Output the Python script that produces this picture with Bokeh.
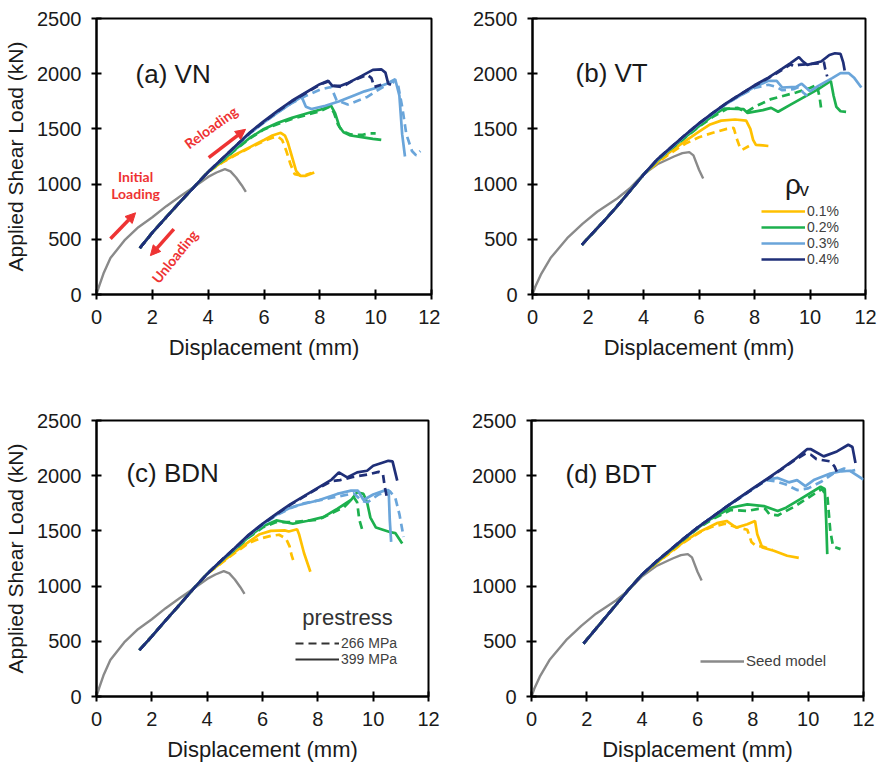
from bokeh.plotting import figure
from bokeh.layouts import column, row
from bokeh.models import Range1d, FixedTicker, Label, Arrow, NormalHead, Legend, LegendItem
from bokeh.embed import file_html
from bokeh.resources import INLINE

FONT = "Liberation Sans"
C_YEL = "#FFC000"
C_GRN = "#1DB04E"
C_LBL = "#6AA5DA"
C_NAV = "#1F2F78"
C_SEED = "#8A8A8A"
C_RED = "#EE3333"
TXT = "#1a1a1a"
DASH = "8 5"

x_ticks = [0, 2, 4, 6, 8, 10, 12]
y_ticks = [0, 500, 1000, 1500, 2000, 2500]
legend_rho = ["0.1%", "0.2%", "0.3%", "0.4%"]
legend_prestress = ["266 MPa", "399 MPa"]

# Seed model curves
seed_n_x = [0, 0.1, 0.25, 0.5, 1.0, 1.5, 2.0, 2.5, 3.0, 3.5, 4.0, 4.3, 4.6, 4.8, 5.0, 5.2, 5.35]
seed_n_y = [0, 80, 190, 330, 490, 610, 700, 800, 890, 975, 1065, 1105, 1135, 1115, 1060, 990, 930]
seed_t_x = [0, 0.1, 0.3, 0.65, 1.25, 1.8, 2.33, 3.05, 3.5, 4.0, 4.5, 5.1, 5.4, 5.65, 5.8, 6.0, 6.15]
seed_t_y = [0, 70, 180, 330, 510, 640, 750, 870, 960, 1090, 1180, 1250, 1280, 1290, 1260, 1130, 1050]

# ---- (a) VN ----
a_rise_x = [1.55, 2.0, 2.5, 3.0, 3.5, 4.0]
a_rise_y = [420, 560, 700, 840, 975, 1110]
a_yel_399_x = [4.5, 5, 5.5, 6, 6.3, 6.6, 6.75, 6.85, 7.0, 7.15, 7.3, 7.5, 7.8]
a_yel_399_y = [1200, 1270, 1335, 1400, 1440, 1465, 1440, 1380, 1250, 1120, 1075, 1075, 1105]
a_yel_266_x = [4.5, 5, 5.5, 6, 6.3, 6.5, 6.65, 6.8, 6.95, 7.1, 7.4, 7.7]
a_yel_266_y = [1195, 1265, 1330, 1390, 1420, 1430, 1400, 1300, 1180, 1090, 1075, 1100]
a_grn_399_x = [4.5, 5, 5.5, 6, 6.5, 7, 7.4, 7.8, 8.1, 8.4, 8.55, 8.7, 8.85, 9.1, 9.5, 9.9, 10.2]
a_grn_399_y = [1215, 1320, 1420, 1500, 1555, 1600, 1630, 1660, 1680, 1710, 1640, 1520, 1470, 1440, 1425, 1410, 1400]
a_grn_266_x = [4.5, 5, 5.5, 6, 6.5, 7, 7.5, 8, 8.35, 8.5, 8.65, 8.8, 9.1, 9.5, 9.8, 10.0]
a_grn_266_y = [1210, 1315, 1415, 1495, 1545, 1590, 1625, 1660, 1700, 1650, 1540, 1480, 1450, 1445, 1460, 1460]
a_lbl_399_x = [4.5, 5, 5.5, 6, 6.5, 7, 7.35, 7.5, 7.7, 8.2, 8.7, 9.2, 9.6, 10.0, 10.4, 10.7, 10.85, 10.95, 11.05]
a_lbl_399_y = [1225, 1345, 1460, 1560, 1650, 1735, 1790, 1700, 1680, 1710, 1750, 1800, 1840, 1870, 1910, 1950, 1800, 1450, 1250]
a_lbl_266_x = [4.5, 5, 5.5, 6, 6.5, 7, 7.5, 8, 8.4, 8.6, 9.0, 9.4, 9.7, 10.2, 10.6, 10.8, 10.95, 11.1, 11.3, 11.45, 11.6]
a_lbl_266_y = [1225, 1345, 1460, 1560, 1650, 1735, 1800, 1855, 1880, 1760, 1720, 1760, 1790, 1870, 1930, 1900, 1700, 1450, 1300, 1260, 1300]
a_nav_399_x = [4.5, 5, 5.5, 6, 6.5, 7, 7.5, 8, 8.3, 8.45, 8.75, 9.0, 9.5, 9.9, 10.2, 10.35, 10.45, 10.55]
a_nav_399_y = [1230, 1350, 1470, 1570, 1665, 1755, 1830, 1905, 1935, 1890, 1890, 1915, 1980, 2035, 2040, 2010, 1910, 1900]
a_nav_266_x = [4.5, 5, 5.5, 6, 6.5, 7, 7.5, 8, 8.3, 8.5, 8.8, 9.2, 9.7, 9.85, 9.95, 10.2]
a_nav_266_y = [1230, 1350, 1465, 1565, 1660, 1750, 1825, 1900, 1930, 1890, 1880, 1940, 1990, 1960, 1880, 1900]

# ---- (b) VT ----
b_rise_x = [1.78, 2.0, 2.5, 3.0, 3.5, 4.0]
b_rise_y = [450, 510, 645, 785, 935, 1085]
b_yel_399_x = [4.5, 5, 5.5, 6, 6.4, 6.8, 7.3, 7.7, 7.85, 7.95, 8.05, 8.3, 8.5]
b_yel_399_y = [1200, 1300, 1390, 1475, 1540, 1575, 1585, 1575, 1500, 1400, 1355, 1350, 1345]
b_yel_266_x = [4.5, 5, 5.5, 6, 6.5, 7, 7.25, 7.35, 7.45, 7.55, 7.8]
b_yel_266_y = [1195, 1285, 1365, 1425, 1465, 1500, 1510, 1420, 1350, 1310, 1345]
b_grn_399_x = [4.5, 5, 5.5, 6, 6.5, 6.9, 7.6, 7.75, 8.3, 8.6, 8.85, 9.3, 9.8, 10.3, 10.75, 10.85, 10.95, 11.1, 11.3]
b_grn_399_y = [1215, 1325, 1425, 1525, 1620, 1685, 1680, 1645, 1670, 1690, 1655, 1720, 1790, 1860, 1935, 1800, 1700, 1660, 1655]
b_grn_266_x = [4.5, 5, 5.5, 6, 6.5, 7, 7.4, 7.7, 8.0, 8.6, 9.5, 10.0, 10.25, 10.35, 10.42]
b_grn_266_y = [1215, 1320, 1420, 1520, 1610, 1680, 1690, 1650, 1700, 1770, 1830, 1870, 1900, 1780, 1650]
b_lbl_399_x = [4.5, 5, 5.5, 6, 6.5, 7, 7.5, 8, 8.5, 8.8, 9.0, 9.5, 9.7, 10.0, 10.3, 10.8, 11.1, 11.4, 11.6, 11.85]
b_lbl_399_y = [1220, 1330, 1440, 1545, 1640, 1730, 1805, 1880, 1935, 1935, 1875, 1880, 1910, 1840, 1890, 1960, 2005, 2005, 1960, 1875]
b_lbl_266_x = [4.5, 5, 5.5, 6, 6.5, 7, 7.5, 8, 8.5, 8.8, 9.0, 9.4, 9.6, 9.75, 9.9]
b_lbl_266_y = [1220, 1330, 1440, 1545, 1640, 1730, 1805, 1870, 1900, 1880, 1850, 1860, 1880, 1830, 1800]
b_nav_399_x = [4.5, 5, 5.5, 6, 6.5, 7, 7.5, 8, 8.5, 9, 9.3, 9.6, 9.75, 9.9, 10.4, 10.7, 10.9, 11.1, 11.2, 11.25]
b_nav_399_y = [1225, 1335, 1445, 1550, 1645, 1735, 1815, 1895, 1965, 2045, 2095, 2150, 2110, 2080, 2110, 2170, 2185, 2180, 2100, 2030]
b_nav_266_x = [4.5, 5, 5.5, 6, 6.5, 7, 7.5, 8, 8.5, 9, 9.3, 9.4, 9.6, 10.4, 10.5, 10.55, 10.62]
b_nav_266_y = [1225, 1335, 1445, 1550, 1645, 1735, 1815, 1890, 1960, 2035, 2085, 2070, 2080, 2095, 2105, 2040, 1975]

# ---- (c) BDN ----
c_rise_x = [1.55, 2.0, 2.5, 3.0, 3.5, 4.0]
c_rise_y = [420, 545, 690, 830, 975, 1110]
c_yel_399_x = [4.5, 5, 5.5, 5.9, 6.3, 6.8, 6.95, 7.25, 7.32, 7.5, 7.73]
c_yel_399_y = [1210, 1310, 1400, 1470, 1500, 1505, 1495, 1515, 1470, 1300, 1130]
c_yel_266_x = [4.5, 5, 5.5, 5.9, 6.3, 6.6, 6.85, 6.98, 7.05, 7.13, 7.2]
c_yel_266_y = [1205, 1300, 1390, 1430, 1455, 1465, 1430, 1360, 1280, 1220, 1200]
c_grn_399_x = [4.5, 5, 5.5, 6, 6.5, 7.1, 7.6, 8.2, 8.7, 9.2, 9.42, 9.65, 9.78, 9.9, 10.1, 10.6, 10.8, 11.05]
c_grn_399_y = [1225, 1335, 1445, 1540, 1595, 1565, 1590, 1625, 1700, 1780, 1850, 1835, 1760, 1620, 1530, 1490, 1480, 1385]
c_grn_266_x = [4.5, 5, 5.5, 6, 6.5, 7.1, 7.5, 8.0, 8.5, 8.95, 9.3, 9.42, 9.5, 9.6]
c_grn_266_y = [1225, 1330, 1440, 1530, 1580, 1580, 1590, 1600, 1660, 1715, 1805, 1760, 1600, 1515]
c_lbl_399_x = [4.5, 5, 5.5, 6, 6.5, 7, 7.25, 8, 8.7, 9.2, 9.45, 9.65, 10.0, 10.4, 10.56, 10.6, 10.65]
c_lbl_399_y = [1230, 1340, 1460, 1560, 1645, 1710, 1730, 1775, 1835, 1865, 1865, 1780, 1830, 1865, 1870, 1600, 1400]
c_lbl_266_x = [4.5, 5, 5.5, 6, 6.5, 7, 7.5, 8.5, 9.3, 9.6, 9.8, 10.2, 10.6, 10.8, 10.95, 11.1]
c_lbl_266_y = [1230, 1340, 1455, 1555, 1640, 1705, 1750, 1800, 1840, 1770, 1760, 1830, 1860, 1800, 1650, 1445]
c_nav_399_x = [4.5, 5, 5.5, 6, 6.5, 7, 7.5, 8, 8.5, 8.76, 9.06, 9.42, 9.78, 10.0, 10.55, 10.7, 10.87]
c_nav_399_y = [1230, 1345, 1465, 1565, 1655, 1740, 1815, 1890, 1965, 2030, 1985, 2030, 2045, 2090, 2135, 2130, 1955]
c_nav_266_x = [4.5, 5, 5.5, 6, 6.5, 7, 7.5, 8, 8.5, 8.8, 9.3, 9.8, 10.2, 10.35, 10.42, 10.5]
c_nav_266_y = [1230, 1345, 1460, 1560, 1650, 1735, 1810, 1885, 1950, 1960, 1990, 2010, 2035, 2020, 1900, 1800]

# ---- (d) BDT ----
d_rise_x = [1.88, 2.5, 3.0, 3.5, 4.0]
d_rise_y = [480, 665, 815, 965, 1105]
d_yel_399_x = [4.5, 5, 5.5, 6.1, 6.7, 7.05, 7.4, 7.8, 8.08, 8.16, 8.34, 8.76, 9.24, 9.66]
d_yel_399_y = [1205, 1305, 1400, 1495, 1570, 1590, 1530, 1560, 1590, 1470, 1350, 1320, 1275, 1255]
d_yel_266_x = [4.5, 5, 5.5, 6.1, 6.5, 7.0, 7.4, 7.8, 7.95, 8.1, 8.4, 8.7]
d_yel_266_y = [1205, 1300, 1395, 1490, 1535, 1565, 1535, 1510, 1400, 1365, 1355, 1330]
d_grn_399_x = [4.5, 5, 5.5, 6, 6.5, 7.2, 7.8, 8.4, 8.9, 9.2, 9.7, 10.45, 10.6, 10.65, 10.69]
d_grn_399_y = [1215, 1320, 1425, 1525, 1610, 1710, 1740, 1725, 1680, 1710, 1785, 1900, 1880, 1600, 1290]
d_grn_266_x = [4.5, 5, 5.5, 6, 6.5, 7.2, 7.8, 8.2, 8.45, 8.6, 8.9, 9.5, 10.0, 10.5, 10.7, 10.8, 10.9, 11.17]
d_grn_266_y = [1215, 1320, 1420, 1520, 1600, 1690, 1680, 1700, 1700, 1650, 1640, 1720, 1800, 1880, 1800, 1500, 1360, 1335]
d_lbl_399_x = [4.5, 5, 5.5, 6, 6.5, 7, 7.5, 8, 8.5, 8.9, 9.3, 9.6, 9.9, 10.2, 10.5, 10.8, 11.2, 11.5, 12.0]
d_lbl_399_y = [1220, 1325, 1430, 1530, 1620, 1710, 1795, 1880, 1965, 1980, 1940, 1960, 1905, 1960, 1990, 2020, 2040, 2045, 1965]
d_lbl_266_x = [4.5, 5, 5.5, 6, 6.5, 7, 7.5, 8, 8.5, 8.8, 9.2, 9.6, 10.0, 10.5, 11.0, 11.3, 11.5, 11.7]
d_lbl_266_y = [1220, 1325, 1430, 1530, 1620, 1710, 1795, 1880, 1960, 1950, 1920, 1870, 1885, 1950, 2035, 2065, 2040, 2050]
d_nav_399_x = [4.5, 5, 5.5, 6, 6.5, 7, 7.5, 8, 8.5, 9, 9.5, 9.96, 10.1, 10.56, 11.04, 11.45, 11.6, 11.71]
d_nav_399_y = [1220, 1325, 1430, 1530, 1620, 1710, 1800, 1885, 1970, 2055, 2145, 2240, 2240, 2175, 2220, 2280, 2260, 2115]
d_nav_266_x = [4.5, 5, 5.5, 6, 6.5, 7, 7.5, 8, 8.5, 9, 9.5, 9.9, 10.1, 10.3, 10.8, 10.95, 11.1]
d_nav_266_y = [1220, 1325, 1430, 1530, 1620, 1710, 1795, 1880, 1965, 2050, 2140, 2200, 2190, 2150, 2130, 2085, 2000]


def make_fig(w, h, left, right, top, bottom, ylabel):
    p = figure(width=w, height=h, output_backend="svg", toolbar_location=None,
               x_range=Range1d(0, 12), y_range=Range1d(0, 2500),
               min_border_left=left, min_border_right=right,
               min_border_top=top, min_border_bottom=bottom)
    p.background_fill_color = "white"
    p.border_fill_color = "white"
    p.outline_line_color = "black"
    p.outline_line_width = 2
    p.xgrid.grid_line_color = None
    p.ygrid.grid_line_color = None
    p.xaxis.ticker = FixedTicker(ticks=x_ticks)
    p.yaxis.ticker = FixedTicker(ticks=y_ticks)
    p.xaxis.axis_label = "Displacement (mm)"
    if ylabel:
        p.yaxis.axis_label = "Applied Shear Load (kN)"
    for ax in (p.xaxis[0], p.yaxis[0]):
        ax.axis_line_width = 2
        ax.axis_line_color = "black"
        ax.major_tick_line_width = 2
        ax.major_tick_line_color = "black"
        ax.major_tick_in = 5
        ax.major_tick_out = 5
        ax.minor_tick_line_color = None
        ax.major_label_text_font = FONT
        ax.major_label_text_font_size = "20px"
        ax.major_label_text_color = TXT
        ax.axis_label_text_font = FONT
        ax.axis_label_text_font_style = "normal"
        ax.axis_label_text_color = TXT
    p.xaxis.axis_label_text_font_size = "22px"
    p.yaxis.axis_label_text_font_size = "21px"
    p.xaxis.axis_label_standoff = 8
    p.yaxis.axis_label_standoff = 7
    p.xaxis.major_label_standoff = 10
    p.yaxis.major_label_standoff = 10
    return p


def draw(p, seed_x, seed_y, rise_x, rise_y, curves):
    rs = {}
    p.line(seed_x, seed_y, line_color=C_SEED, line_width=2.4)
    rs["seed"] = p.renderers[-1]
    for key, col, dash, tx, ty in curves:
        xs = rise_x + tx
        ys = rise_y + ty
        r = p.line(xs, ys, line_color=col, line_width=2.7,
                   line_dash=(DASH if dash else "solid"))
        rs[key] = r
    return rs


def curve_list(yel266, yel399, grn266, grn399, lbl266, lbl399, nav266, nav399):
    return [
        ("y266", C_YEL, True) + yel266, ("y399", C_YEL, False) + yel399,
        ("g266", C_GRN, True) + grn266, ("g399", C_GRN, False) + grn399,
        ("l266", C_LBL, True) + lbl266, ("l399", C_LBL, False) + lbl399,
        ("n266", C_NAV, True) + nav266, ("n399", C_NAV, False) + nav399,
    ]


def panel_label(p, x, y, text):
    p.add_layout(Label(x=x, y=y, text=text, text_font=FONT, text_font_size="26px",
                       text_color=TXT, text_baseline="middle", text_align="left"))


# (a)
pa = make_fig(440, 383, 96, 9, 17, 89, True)
draw(pa, seed_n_x, seed_n_y, a_rise_x, a_rise_y, curve_list(
    (a_yel_266_x, a_yel_266_y), (a_yel_399_x, a_yel_399_y),
    (a_grn_266_x, a_grn_266_y), (a_grn_399_x, a_grn_399_y),
    (a_lbl_266_x, a_lbl_266_y), (a_lbl_399_x, a_lbl_399_y),
    (a_nav_266_x, a_nav_266_y), (a_nav_399_x, a_nav_399_y)))
panel_label(pa, 1.4, 2000, "(a) VN")
ann = dict(text_font="Lato", text_font_size="14px", text_font_style="bold",
           text_color=C_RED, text_align="center", text_baseline="middle")
pa.add_layout(Label(x=1.4, y=1065, text="Initial", **ann))
pa.add_layout(Label(x=1.4, y=915, text="Loading", **ann))
pa.add_layout(Label(x=4.1, y=1515, text="Reloading", angle=36, angle_units="deg", **ann))
pa.add_layout(Label(x=2.8, y=345, text="Unloading", angle=51, angle_units="deg", **ann))
for xs, ys, xe, ye in [(0.5, 505, 1.4, 740), (4.02, 1240, 5.34, 1496), (2.77, 593, 1.93, 352)]:
    pa.add_layout(Arrow(end=NormalHead(size=10, fill_color=C_RED, line_color=C_RED),
                        x_start=xs, y_start=ys, x_end=xe, y_end=ye,
                        line_color=C_RED, line_width=3.5))

# (b)
pb = make_fig(439, 383, 92, 14, 18, 86, False)
rb = draw(pb, seed_t_x, seed_t_y, b_rise_x, b_rise_y, curve_list(
    (b_yel_266_x, b_yel_266_y), (b_yel_399_x, b_yel_399_y),
    (b_grn_266_x, b_grn_266_y), (b_grn_399_x, b_grn_399_y),
    (b_lbl_266_x, b_lbl_266_y), (b_lbl_399_x, b_lbl_399_y),
    (b_nav_266_x, b_nav_266_y), (b_nav_399_x, b_nav_399_y)))
panel_label(pb, 1.55, 2005, "(b) VT")
pb.add_layout(Label(x=9.1, y=1000, text="ρ", text_font=FONT, text_font_size="28px",
                    text_color=TXT, text_baseline="middle", text_align="left"))
pb.add_layout(Label(x=9.62, y=955, text="v", text_font=FONT, text_font_size="19px",
                    text_color=TXT, text_baseline="middle", text_align="left"))
leg_b = Legend(items=[LegendItem(label=lab, renderers=[rb[k]])
                      for lab, k in zip(legend_rho, ["y399", "g399", "l399", "n399"])],
               location=(229, 27))
pb.add_layout(leg_b)

# (c)
pc = make_fig(440, 382, 96, 12, 37, 69, True)
draw(pc, seed_n_x, seed_n_y, c_rise_x, c_rise_y, curve_list(
    (c_yel_266_x, c_yel_266_y), (c_yel_399_x, c_yel_399_y),
    (c_grn_266_x, c_grn_266_y), (c_grn_399_x, c_grn_399_y),
    (c_lbl_266_x, c_lbl_266_y), (c_lbl_399_x, c_lbl_399_y),
    (c_nav_266_x, c_nav_266_y), (c_nav_399_x, c_nav_399_y)))
panel_label(pc, 1.08, 2020, "(c) BDN")
pc.add_layout(Label(x=7.44, y=716, text="prestress", text_font=FONT, text_font_size="22px",
                    text_color="#333333", text_baseline="middle", text_align="left"))
nan = float("nan")
r266 = pc.line([nan], [nan], line_color="#333333", line_width=2, line_dash=DASH)
r399 = pc.line([nan], [nan], line_color="#333333", line_width=2)
leg_c = Legend(items=[LegendItem(label=legend_prestress[0], renderers=[r266]),
                      LegendItem(label=legend_prestress[1], renderers=[r399])],
               location=(199, 29))
pc.add_layout(leg_c)

# (d)
pd_ = make_fig(439, 382, 91, 16, 36, 69, False)
rd = draw(pd_, seed_t_x, seed_t_y, d_rise_x, d_rise_y, curve_list(
    (d_yel_266_x, d_yel_266_y), (d_yel_399_x, d_yel_399_y),
    (d_grn_266_x, d_grn_266_y), (d_grn_399_x, d_grn_399_y),
    (d_lbl_266_x, d_lbl_266_y), (d_lbl_399_x, d_lbl_399_y),
    (d_nav_266_x, d_nav_266_y), (d_nav_399_x, d_nav_399_y)))
panel_label(pd_, 1.23, 2013, "(d) BDT")
leg_d = Legend(items=[LegendItem(label="Seed model", renderers=[rd["seed"]])],
               location=(169, 27))
pd_.add_layout(leg_d)

for lg, fs in ((leg_b, "14px"), (leg_c, "14px"), (leg_d, "15px")):
    lg.label_text_font = FONT
    lg.label_text_font_size = fs
    lg.label_text_color = "#404040"
    lg.glyph_width = 44
    lg.glyph_height = 12
    lg.label_height = 12
    lg.spacing = -5
    lg.padding = 0
    lg.margin = 0
    lg.label_standoff = 2
    lg.border_line_alpha = 0
    lg.background_fill_alpha = 0

layout = column(row(pa, pb), row(pc, pd_))
open("out.html", "w").write(file_html(layout, INLINE))
